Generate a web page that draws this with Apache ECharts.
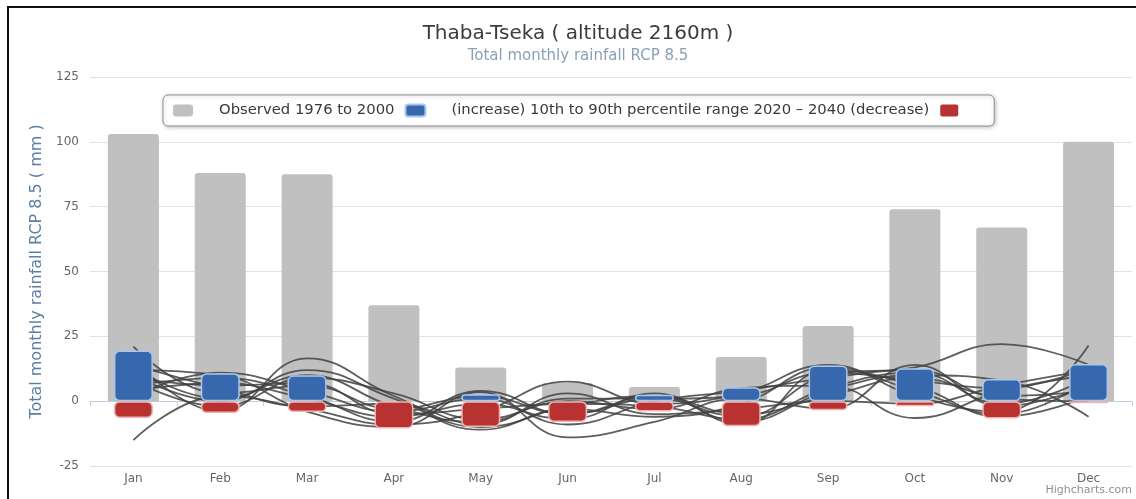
<!DOCTYPE html>
<html>
<head>
<meta charset="utf-8">
<script src="https://cdn.jsdelivr.net/npm/echarts@6/dist/echarts.min.js"></script>
<style>
  html, body { margin: 0; padding: 0; background: #fff; }
  #chart { position: absolute; left: 0; top: 0; width: 1136px; height: 499px; }
  #frame { position: absolute; left: 7px; top: 6px; width: 1140px; height: 500px;
           border-left: 2px solid #111; border-top: 2px solid #111; pointer-events: none; }
</style>
</head>
<body>
<div id="chart"></div>
<div id="frame"></div>
<script>
// Monthly rainfall at Thaba-Tseka, RCP 8.5
const months = ['Jan', 'Feb', 'Mar', 'Apr', 'May', 'Jun', 'Jul', 'Aug', 'Sep', 'Oct', 'Nov', 'Dec'];
const yTicks = [-25, 0, 25, 50, 75, 100, 125];

const observedName = 'Observed 1976 to 2000';
const rangeName = '(increase) 10th to 90th percentile range 2020 \u2013 2040 (decrease)';

// observed mean monthly totals (mm)
const observed = [103, 88, 87.5, 37, 13, 7, 5.5, 17, 29, 74, 67, 100];
// 10th-90th percentile change, upper (increase) and lower (decrease) parts
const increase = [19.5, 10.8, 10, null, 2.7, null, 2.5, 5.4, 13.8, 12.7, 8.5, 14.3];
const decrease = [-6.5, -4.6, -4.2, -10.5, -10, -8, -4, -9.7, -3.5, -2, -6.7, -0.8];

// individual model projections of the change (mm)
const model1  = [21, 3, 6, -3, 2, -5, 1, -6, 10, 13, 22, 14];
const model2  = [-15, 2, -3, -9, -4, 7.5, -1, 3, 14, 2, -4, 21.5];
const model3  = [16, -4, 16.5, 2, -10, -2, 2, -8, 4, 10, 8, -6];
const model4  = [12, 10, -4, -10, 3.5, -14, -8, 1, -3, 14, -2, 6];
const model5  = [8, -2, 9, 3, -7, 0, -3, 5, 6, -6.5, 4, 10];
const model6  = [4, 7, 1, -6, -1, -7, 3, -9, 12, 6, -6, 2];
const model7  = [14, 5, -2, -1, -9, 3, -5, -3, 0, -1, 6, 12];
const model8  = [2, 11, 4, -4, 1, -9, 0, 4, 9, 12, 1, 0];
const model9  = [10, 0, 12, 1, -11, -3, -6, -1, 13, 4, -5, 8];
const model10 = [6, 9, 2, -8, 4, -5, 2, -5, 2, 9, 2, 4];
const model11 = [9, 6, 7, -5, -3, -1, -2, -7, 5, 11, -1, 9];
const model12 = [13, 1, 10, -2, -8, 1, 1, 2, 11, 8, 5, 13];
const models = [model1, model2, model3, model4, model5, model6,
                model7, model8, model9, model10, model11, model12];

const FONT = 'DejaVu Sans';
const chart = echarts.init(document.getElementById('chart'));

const lineSeries = models.map((vals, i) => ({
  name: 'model ' + (i + 1),
  type: 'line',
  xAxisIndex: 0,
  data: vals,
  smooth: 0.45,
  symbol: 'none',
  z: 2,
  silent: true,
  lineStyle: { color: 'rgba(66,66,66,0.85)', width: 1.8 }
}));

chart.setOption({
  animation: false,
  textStyle: { fontFamily: FONT },
  title: [
    {
      text: 'Thaba-Tseka ( altitude 2160m )',
      left: 573, top: 19, textAlign: 'center',
      textStyle: { fontSize: 20, fontWeight: 'normal', color: '#3c3c3c', fontFamily: FONT }
    },
    {
      text: 'Total monthly rainfall RCP 8.5',
      left: 573, top: 44, textAlign: 'center',
      textStyle: { fontSize: 15, fontWeight: 'normal', color: '#8a9fb4', fontFamily: FONT }
    }
  ],
  legend: {
    data: [
      { name: observedName, icon: 'roundRect' },
      { name: rangeName, icon: 'roundRect' }
    ],
    left: 163, top: 95,
    orient: 'horizontal',
    itemWidth: 20, itemHeight: 12,
    itemGap: 10,
    padding: [8, 36, 8, 10],
    backgroundColor: '#fff',
    borderColor: '#909090', borderWidth: 1, borderRadius: 5,
    shadowBlur: 4, shadowColor: 'rgba(0,0,0,0.25)', shadowOffsetX: 1, shadowOffsetY: 1,
    selectedMode: false,
    formatter: function (name) {
      return '{s|}{t|' + name + '}' + (name === rangeName ? '{g|}{r|}' : '');
    },
    textStyle: {
      color: '#3a3a3a', fontSize: 14.8, fontFamily: FONT,
      rich: {
        s: { width: 21 },
        t: { color: '#3a3a3a', fontSize: 14.8, fontFamily: FONT },
        g: { width: 11 },
        r: { width: 18, height: 12, backgroundColor: '#b83232', borderRadius: 2 }
      }
    }
  },
  grid: { left: 90, right: 4, top: 77, bottom: 33 },
  xAxis: [
    {
      type: 'category', data: months,
      axisLine: { lineStyle: { color: '#c0d0e0' } },
      axisTick: { show: true, length: 5, lineStyle: { color: '#c0d0e0' } },
      axisLabel: { color: '#666', fontSize: 12, margin: 7, fontFamily: FONT }
    },
    {
      type: 'category', data: months, show: false
    }
  ],
  yAxis: {
    type: 'value', min: -25, max: 125, interval: 25,
    name: 'Total monthly rainfall RCP 8.5 ( mm )',
    nameLocation: 'middle', nameGap: 45,
    nameTextStyle: { color: '#5a7fa3', fontSize: 16, fontFamily: FONT },
    axisLine: { show: false },
    axisTick: { show: false },
    axisLabel: {
      color: '#666', fontSize: 12, margin: 11, fontFamily: FONT,
      formatter: v => (yTicks.indexOf(v) >= 0 ? String(v) : '')
    },
    splitLine: { lineStyle: { color: '#e2e2e2' } }
  },
  series: [
    {
      name: observedName, type: 'bar', xAxisIndex: 0,
      data: observed, barWidth: 51, z: 1,
      itemStyle: { color: '#c0c0c0', borderRadius: [3, 3, 0, 0] }
    },
    ...lineSeries,
    {
      name: rangeName, type: 'bar', xAxisIndex: 1,
      data: increase, barWidth: 39, barGap: '-100%', z: 3,
      itemStyle: { color: '#3768ad', borderColor: '#a9c7ea', borderWidth: 1.5, borderRadius: 5 }
    },
    {
      name: 'decrease range', type: 'bar', xAxisIndex: 1,
      data: decrease, barWidth: 39, barGap: '-100%', z: 3,
      itemStyle: { color: '#b83232', borderColor: '#efb3b0', borderWidth: 1.5, borderRadius: 5 }
    }
  ],
  graphic: [
    {
      type: 'text', right: 4, bottom: 3,
      style: { text: 'Highcharts.com', fill: '#909090', fontSize: 11, fontFamily: FONT }
    }
  ]
});
</script>
</body>
</html>
